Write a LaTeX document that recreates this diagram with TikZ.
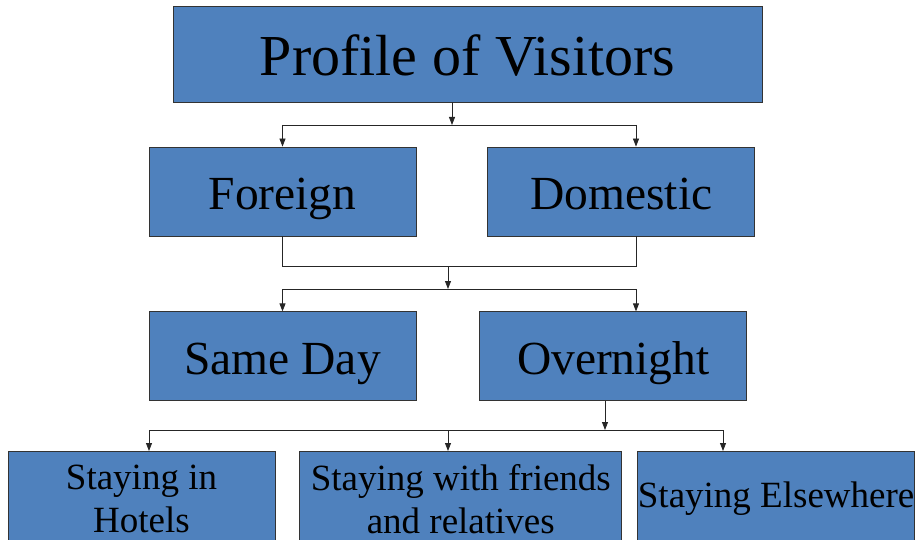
\documentclass[tikz,border=0pt]{standalone}
\usepackage{fontspec}
\setmainfont{Liberation Serif}
\usetikzlibrary{positioning,arrows.meta}
\definecolor{boxblue}{HTML}{4F81BD}
\tikzstyle{block} = [rectangle, draw=black!80, fill=boxblue, line width=0.8pt, inner sep=0pt, minimum width=267pt, minimum height=89pt, align=center, text height=44pt, text depth=7pt, font=\fontsize{47.5}{50}\selectfont]
\tikzstyle{stay} = [block, minimum height=95pt, text height=, text depth=, font=\fontsize{37}{43}\selectfont]
\tikzstyle{line} = [draw, -{Triangle[length=8pt,width=6pt]}, line width=0.8pt, black!85]
\tikzstyle{link} = [draw, line width=0.8pt, black!85]

\begin{document}
\begin{tikzpicture}[x=1pt, y=-1pt, node distance=71pt]
    \useasboundingbox (0,0) rectangle (918,540);
    % Blocks
    \node [block, minimum width=589pt, minimum height=96pt, text height=52pt, text depth=8pt,
           font=\fontsize{58}{60}\selectfont] (profile) at (467.5,54) {Profile of Visitors};
    \node [block] (foreign) at (282.5,191.5) {Foreign};
    \node [block, right=of foreign] (domestic) {Domestic};
    \node [block, below=75pt of foreign] (sameday) {Same Day};
    \node [block, right=63pt of sameday] (overnight) {Overnight};
    \node [stay, anchor=north] (hotels) at (141.5,451) {Staying in\\Hotels};
    \node [stay, minimum width=322pt, right=24pt of hotels] (friends) {Staying with friends\\and relatives};
    \node [stay, minimum width=277pt, right=15pt of friends] (elsewhere) {Staying Elsewhere};
    % Junctions
    \coordinate (j1) at (452,125);
    \coordinate (d1) at (636,125);
    \coordinate (j2) at (448,266);
    \coordinate (j3) at (448,289);
    \coordinate (j4) at (605,430);
    \coordinate (h1) at (149,430);
    \coordinate (e1) at (723,430);
    % Lines
    \path [line] (profile.south -| j1) -- (j1);
    \path [link] (foreign.north |- j1) -- (d1);
    \path [line] (foreign.north |- j1) -- (foreign.north);
    \path [line] (d1) -- (d1 |- domestic.north);
    \path [link] (foreign.south) -- (foreign.south |- j2)
        -- (d1 |- j2) -- (d1 |- domestic.south);
    \path [line] (j2) -- (j3);
    \path [link] (sameday.north |- j3) -- (d1 |- j3);
    \path [line] (sameday.north |- j3) -- (sameday.north);
    \path [line] (d1 |- j3) -- (d1 |- overnight.north);
    \path [line] (j4 |- overnight.south) -- (j4);
    \path [link] (h1) -- (e1);
    \path [line] (h1) -- (h1 |- hotels.north);
    \path [line] (j4 -| j2) -- (j2 |- friends.north);
    \path [line] (e1) -- (e1 |- elsewhere.north);
\end{tikzpicture}
\end{document}
